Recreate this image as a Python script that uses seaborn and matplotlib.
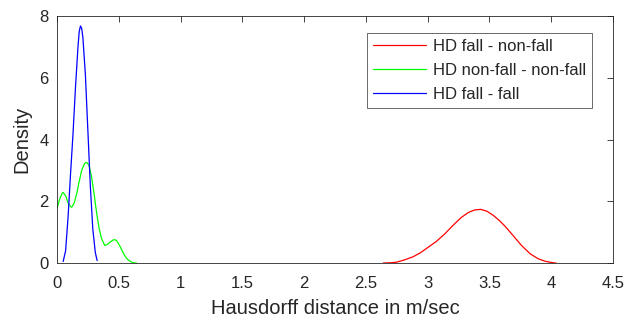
import matplotlib
matplotlib.use("Agg")
import matplotlib.pyplot as plt
import seaborn as sns
import pandas as pd
import numpy as np

# density curves
red_x = [2.64, 2.70, 2.75, 2.81, 2.88, 2.94, 3.00, 3.07, 3.14, 3.20, 3.27, 3.33, 3.38,
         3.43, 3.48, 3.53, 3.58, 3.625, 3.69, 3.76, 3.83, 3.895, 3.95, 4.00, 4.04]
red_y = [0.0, 0.01, 0.03, 0.10, 0.20, 0.33, 0.50, 0.70, 0.95, 1.20, 1.47, 1.64, 1.72,
         1.74, 1.68, 1.55, 1.38, 1.20, 0.90, 0.57, 0.30, 0.14, 0.06, 0.02, 0.0]

green_x = [0.0, 0.02, 0.04, 0.05, 0.07, 0.09, 0.11, 0.12, 0.14, 0.16, 0.18, 0.20, 0.22,
           0.23, 0.24, 0.25, 0.26, 0.28, 0.30, 0.32, 0.34, 0.36, 0.387, 0.41, 0.43,
           0.46, 0.48, 0.50, 0.52, 0.54, 0.56, 0.58, 0.60, 0.62, 0.645]
green_y = [1.76, 2.05, 2.25, 2.29, 2.18, 1.95, 1.83, 1.81, 1.95, 2.25, 2.65, 3.00, 3.20,
           3.25, 3.26, 3.22, 3.15, 2.80, 2.25, 1.65, 1.15, 0.80, 0.57, 0.61, 0.68,
           0.76, 0.74, 0.62, 0.46, 0.30, 0.17, 0.09, 0.04, 0.01, 0.0]

blue_x = [0.05, 0.07, 0.09, 0.11, 0.13, 0.15, 0.17, 0.18, 0.19, 0.20, 0.21, 0.23, 0.25,
          0.27, 0.29, 0.31, 0.325]
blue_y = [0.05, 0.40, 1.50, 2.90, 4.20, 5.70, 7.00, 7.50, 7.68, 7.60, 7.30, 6.10, 4.30,
          2.50, 1.10, 0.35, 0.08]

labels = ["HD fall - non-fall", "HD non-fall - non-fall", "HD fall - fall"]
colors = ["#ff0000", "#00ff00", "#0000ff"]

df = pd.concat([
    pd.DataFrame({"x": red_x, "y": red_y, "series": labels[0]}),
    pd.DataFrame({"x": green_x, "y": green_y, "series": labels[1]}),
    pd.DataFrame({"x": blue_x, "y": blue_y, "series": labels[2]}),
], ignore_index=True)

sns.set_style("white")
plt.rcParams["font.family"] = ["Liberation Sans", "DejaVu Sans"]

fig = plt.figure(figsize=(6.24, 3.22), dpi=100)
ax = fig.add_axes([0.0913, 0.183, 0.891, 0.767])

sns.lineplot(data=df, x="x", y="y", hue="series", hue_order=labels,
             palette=colors, estimator=None, sort=False, linewidth=0.9, ax=ax)

ax.set_xlim(0, 4.5)
ax.set_ylim(0, 8)
ax.set_xticks(np.arange(0, 4.51, 0.5))
ax.set_xticklabels(["0", "0.5", "1", "1.5", "2", "2.5", "3", "3.5", "4", "4.5"])
ax.set_yticks([0, 2, 4, 6, 8])
ax.set_xlabel("Hausdorff distance in m/sec", fontsize=14.5, color="#262626", labelpad=6)
ax.set_ylabel("Density", fontsize=14.5, color="#262626", labelpad=6)
ax.tick_params(direction="in", length=4, width=0.6, top=True, right=True,
               labelsize=12, colors="#262626")
ax.tick_params(axis="x", pad=9)
ax.tick_params(axis="y", pad=6)
for s in ax.spines.values():
    s.set_color("#262626")
    s.set_linewidth(0.6)

leg = ax.legend(loc="upper right", bbox_to_anchor=(0.962, 0.931), fontsize=12,
                frameon=True, fancybox=False, edgecolor="#262626", borderaxespad=0,
                handlelength=3.2, borderpad=0.35, labelspacing=0.55, handletextpad=0.4)
leg.get_frame().set_linewidth(0.6)

fig.savefig("out.png", dpi=100)
